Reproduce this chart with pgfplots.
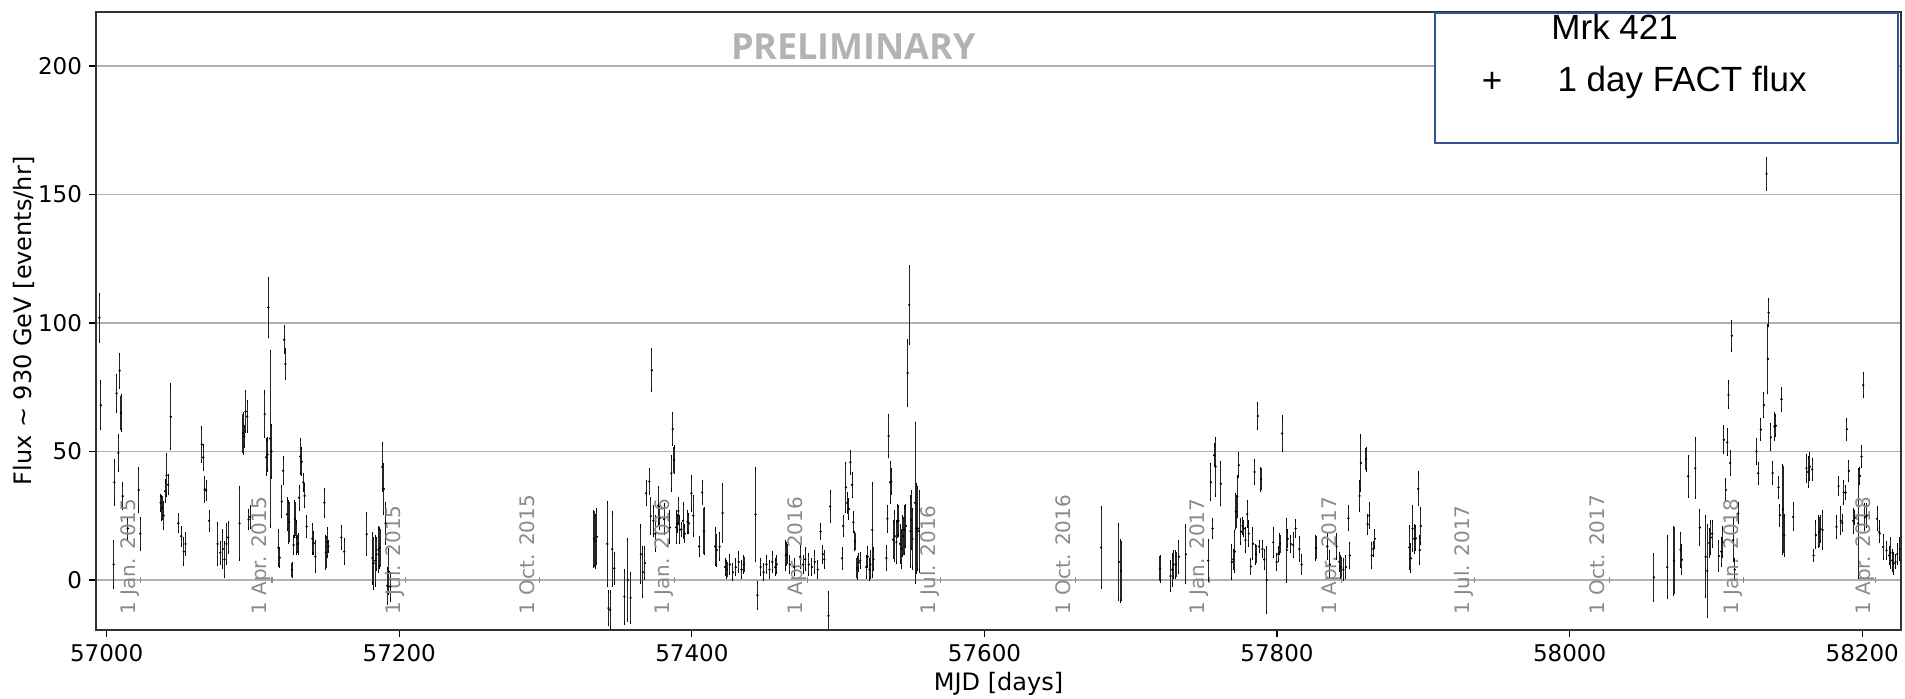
\documentclass[border=0pt]{standalone}
\usepackage{fontspec}
\setmainfont{DejaVu Sans}
\newfontfamily\legfont{Liberation Sans}
\newfontfamily\osans{Open Sans}
\usepackage{pgfplots}
\usepackage{pgfplotstable}
\pgfplotsset{compat=1.18}
\definecolor{gridgray}{HTML}{B0B0B0}
\definecolor{legblue}{HTML}{2F5496}
\definecolor{prelim}{HTML}{B3B3B3}
\definecolor{dategray}{HTML}{8A8A8A}
\tikzset{datelbl/.style={xshift=-2.5pt, rotate=90, anchor=base west, inner sep=0pt, text=dategray, font=\fontsize{10}{12}\selectfont}}

% MJD, flux, error
\pgfplotstableread{
56995 102 9
56996 68 9
57004.8 6 9
57005.2 38 8.5
57006.8 72.6 7
57008 49.4 6.6
57008.9 81.4 6.4
57009.8 65 6.7
57010.9 32.6 4.7
57014.4 20 4
57021.9 35 8.5
57023 18 6
57036.9 30 3
57037.8 28 4.5
57039 25 5
57040 34.5 4
57041 40.7 8
57042 37 3.5
57043.8 63.5 12.5
57049 22 3.3
57051 17 3.4
57052.7 11 5
57053.9 14 4
57065 52.7 6.6
57066 47.7 4.7
57067 35.3 4.7
57068 34.8 3.6
57070 23 3.6
57075.8 14 8
57077.6 10.6 4
57079.4 12 7
57080.5 8 6.6
57081.9 14 7.6
57083 16.5 5.8
57090.8 22 14
57093.2 57 7.7
57094 55.8 3.9
57095 65.5 7.8
57096 63.6 5.8
57097 23.5 3.5
57098 24.5 4
57108 64.5 8.6
57109 47.7 6.8
57110 48.8 6
57110.5 106 11.4
57111.7 55 34
57112.6 50 10
57117.4 12.5 6.7
57118.3 8.7 3.5
57119.7 30.5 5.8
57120.6 42.5 4.9
57121.3 93.5 5
57122.2 84 5.7
57123.3 25.5 6
57124.6 22.5 7.8
57126.7 3.9 2.6
57127.8 13.6 3.3
57128.7 23.7 6.8
57129.9 16.5 6
57130.8 14 3.5
57131.5 32 4.4
57132.4 48 6.6
57133.3 46 5
57134.4 38 3
57135.3 32.7 4.2
57136.7 20.8 4
57140.6 16 5.5
57141.5 14.3 4
57142.6 9 5.8
57148.8 30 5.3
57149.9 10.7 6.2
57150.8 14.6 5.5
57151.5 13 2
57160.4 16.5 4.2
57162.4 11 4.7
57177.7 17.8 8
57181.6 8.5 9.7
57182.5 6.5 9.7
57183.6 7.5 9.5
57184.5 10 6
57185.7 11.7 8.5
57186.8 12.5 7.5
57188.4 44 9
57189.5 35.4 9.4
57190.6 22 7.8
57191.8 -2.3 6.8
57192.9 3.2 8.4
57193.8 -2.6 5.2
57333.1 16 10.7
57333.8 15 10
57335 16.8 10.4
57342.2 14 16
57343 -11 6.5
57344.2 -11.7 7
57345.6 12 14
57347 4.5 5.7
57353.9 -6.5 10.3
57356.2 0 15.6
57358.1 -7 9.5
57365.1 10 11
57366.5 3 9.5
57367.9 6.6 6
57368.7 33.7 4.5
57371 38.3 4.7
57371.9 24.8 6.8
57372.7 81.6 8
57373.7 23 5.5
57375 18 6.5
57377 29 7
57378 24 4
57381 23.6 5.6
57385 20.4 6
57386 41.5 6.5
57386.9 58.7 6
57387.8 46.7 5
57389.2 20.4 6
57390 22 3
57390.8 26.8 5
57391.8 19.5 5
57392.8 19.7 2.3
57394 23 6.5
57395.2 18 3
57397 22.6 4
57398 22 3.5
57399.7 33.7 6.5
57401 25 7.5
57405 13 3.5
57407 34 4.2
57408.3 19 8.8
57415.9 13 6.8
57417 11.6 5.8
57418.9 12.9 5.1
57421 26 11
57422.7 5 3
57424 4 3
57426 6 3.5
57428 3 3
57430 5 3
57432 7 3.5
57434 4 3
57435.6 6 3
57443.5 25.5 18
57444.8 -6 5
57447 5 3
57449 3 3
57451 6 3
57453 4 3
57455 7 3.5
57457 5 3
57458 6 3
57464.2 9.5 5.6
57465 10 4
57467 6 3
57470 5 3
57474 9 4
57476 6 3
57477.5 8 4
57480 6 4
57482 5 3
57484 7 4
57486 4 3
57488 18.8 2.6
57489.5 10 3
57490.5 8 3
57493.4 -14 9
57494.5 28.6 5.8
57502.7 8.4 3.9
57503.4 21 3.6
57505.3 36 9.4
57506.2 30 3.6
57507.3 27.6 3.5
57508.4 45.8 4.2
57509.5 37 4.5
57510.4 22.4 3.6
57511.5 15 3.3
57512.9 4.7 4
57514.2 6.8 3
57515.1 7.6 2.8
57519.2 5 4
57520.3 9 3.7
57521.4 4 4
57522 6 5
57523.3 19.5 18
57524.1 8 4
57533 8.5 4.5
57533.7 23.8 4.9
57534.5 56 8
57535.6 38 7.8
57536.3 38.3 4.5
57537.6 15.6 7
57538.7 17 9.4
57539.8 14.7 8
57540.3 23 6
57541.2 23 5.5
57542.3 14 7
57543.4 12 7
57544.3 17 7.5
57545.2 19.4 9
57546.3 21 8
57547.5 80.5 12.5
57548.6 107 15
57549.5 19 13.6
57550 23.3 11
57550.8 16 11.4
57552.6 30 31
57553.5 20 17
57554.4 20 16
57555.3 19 15.5
57679.8 12.6 15.6
57691.9 7 14.4
57693.3 3.5 11.7
57720 4.4 4.8
57727.2 1.5 5.5
57728.3 4 6
57729.3 6 5
57730.9 6 5
57732.9 9 6
57737.7 10 11
57753 7.5 7.8
57754.8 38 6.8
57755.9 20 3.4
57757 48.5 4
57758 44 11
57761.6 37.4 8.2
57769.1 7 6.5
57770 8 3.5
57771 11 7.8
57771.9 26.6 6.5
57772.8 32.4 7.8
57773.9 44.6 4.4
57775.3 18.8 4.5
57776.4 21 3
57777.3 20 2.6
57778.4 15.5 4.5
57779.6 25.6 4.9
57780.7 18 4.5
57782.1 5.2 2.6
57783.5 14 5.8
57784.6 42 4.5
57785.6 10 3.5
57786.9 63.8 4.9
57787.8 13 2
57789 39.2 4.2
57790 12 3
57791.2 8 3.5
57793 0 12.6
57797.4 14.6 5.5
57799.7 7 3
57800.8 10 2.6
57802 14 3.5
57803.5 57 6.5
57806.7 11.6 12
57807.3 16 3
57809.4 14 3
57811 13.6 4.5
57812.7 20 3.2
57815.2 12 4.5
57816.8 6 3.5
57826.6 12.5 4.5
57834.3 13 4.8
57836.1 6 5
57840.7 13 4.5
57842.5 7 3.2
57843.7 5 4
57845.3 4 4
57847 5 4
57848.7 24 4.5
57849.8 9.5 4.8
57856.4 32.7 5.5
57857.3 45.5 10.5
57860.8 47 4.2
57861.9 21.7 3.5
57863 25 4.5
57864.8 9.5 4.8
57865.8 12 2.6
57866.9 16 3.2
57890.4 12.6 8
57891.5 8.4 5.2
57892.6 20 8.4
57893.8 16 5.2
57894.9 16.2 4.5
57896.5 35.4 6.2
57897.6 11.6 5.2
57898.3 21 6.8
58057.6 1 9
58066.7 5 11.7
58071.3 7.4 13
58075.8 11.8 6.4
58076.7 7.8 5.4
58081 40.3 7.7
58085.8 43.4 11.4
58089 20.4 6.4
58093 9 15.6
58094 3.5 17.8
58095.4 14.4 5.2
58096.5 16.5 6
58097.4 18 4.8
58102 9.3 5.5
58103.6 11 5.2
58104.5 14.7 5.5
58105.4 54.5 5
58106.8 35 3.9
58107.7 53.5 4.8
58108.6 72 5
58109.7 45.5 4.5
58110.9 95 5.5
58111.8 15.5 7.8
58112.9 4 4
58115.2 25.9 3.6
58127.7 50 4.5
58128.9 41.5 3.9
58130.7 58.5 4
58132.8 68 4.5
58134.6 158 6
58135.5 86 13
58136 104 5
58137.5 55.5 4.9
58138.7 41.6 4.2
58140 59.7 4.9
58140.9 60 3.9
58142.8 36 3.8
58143.7 25.2 3.8
58144.8 70.3 4.2
58145.8 27.5 17
58146.7 17.4 7.8
58152.8 24.5 5
58161.9 43.5 5
58163 42 5.5
58164.2 44 5
58165.8 43 4
58166.7 9.5 2
58168.3 17.5 5
58170.4 18.7 5.8
58171.5 19.8 4.8
58172.9 19.4 7.2
58182.4 20.6 3.9
58183.8 36.5 3.2
58185.4 23 5
58186.3 22.2 2.9
58187.4 34 4.3
58188.6 34 2.3
58189.5 58.6 3.8
58190.9 42.4 3.6
58193.8 23 4.5
58194.9 24.2 2.3
58197.2 22 21
58198.4 40.5 3
58199.5 48 4
58200.7 75.8 4.5
58201.8 24.4 4.9
58203 25 4.2
58210.2 23.8 4.2
58211.6 18.7 3.9
58212 18 2.6
58214.3 12.8 4.5
58216.6 11.5 3.2
58218.4 9.5 3.2
58219.3 10.5 5.5
58220.5 7.6 3.9
58221.6 6.4 3.9
58222.7 7 2.3
58223.9 10 3.6
58225.7 12 3.9
}\fluxdata

\begin{document}
\begin{tikzpicture}
\path[use as bounding box] (-48pt,-34pt) rectangle (904.5pt,315pt);
\begin{axis}[
  scale only axis,
  width=902.5pt,
  height=309pt,
  xmin=56992.7, xmax=58226.5,
  ymin=-19.5, ymax=221,
  xtick={57000,57200,...,58200},
  ytick={0,50,...,200},
  scaled x ticks=false,
  /pgf/number format/assume math mode=true,
  x tick label style={/pgf/number format/1000 sep={}},
  ticklabel style={font=\fontsize{11.5}{14}\selectfont},
  ymajorgrids,
  grid style={draw=gridgray, line width=0.7pt},
  tick align=outside,
  xtick pos=bottom,
  ytick pos=left,
  major tick length=3.5pt,
  tick style={black, line width=0.6pt},
  axis line style={black!80, line width=0.6pt},
  xlabel={MJD [days]},
  ylabel={Flux \textasciitilde{} 930 GeV [events/hr]},
  every axis x label/.style={at={([yshift=-27pt]rel axis cs:0.5,0)}, anchor=center, font=\fontsize{12}{14}\selectfont},
  every axis y label/.style={at={([xshift=-36pt]rel axis cs:0,0.5)}, rotate=90, anchor=center, font=\fontsize{12}{14}\selectfont},
]
\addplot[only marks, mark=*, mark size=0.35pt, black,
  error bars/.cd, y dir=both, y explicit,
  error bar style={line width=0.55pt, black!85},
  error mark=-, error mark options={mark size=0.8pt, line width=0.5pt, black}]
  table[x index=0, y index=1, y error index=2, header=false] {\fluxdata};

\addplot[only marks, mark=|, mark size=1.7pt, dategray, mark options={line width=0.6pt}] coordinates {
  (57023,0) (57113,0) (57204,0) (57296,0) (57388,0) (57479,0) (57570,0)
  (57662,0) (57754,0) (57844,0) (57935,0) (58027,0) (58119,0) (58209,0)
};

\node[datelbl] at (axis cs:57023,-13.6) {1 Jan. 2015};
\node[datelbl] at (axis cs:57113,-13.6) {1 Apr. 2015};
\node[datelbl] at (axis cs:57204,-13.6) {1 Jul. 2015};
\node[datelbl] at (axis cs:57296,-13.6) {1 Oct. 2015};
\node[datelbl] at (axis cs:57388,-13.6) {1 Jan. 2016};
\node[datelbl] at (axis cs:57479,-13.6) {1 Apr. 2016};
\node[datelbl] at (axis cs:57570,-13.6) {1 Jul. 2016};
\node[datelbl] at (axis cs:57662,-13.6) {1 Oct. 2016};
\node[datelbl] at (axis cs:57754,-13.6) {1 Jan. 2017};
\node[datelbl] at (axis cs:57844,-13.6) {1 Apr. 2017};
\node[datelbl] at (axis cs:57935,-13.6) {1 Jul. 2017};
\node[datelbl] at (axis cs:58027,-13.6) {1 Oct. 2017};
\node[datelbl] at (axis cs:58119,-13.6) {1 Jan. 2018};
\node[datelbl] at (axis cs:58209,-13.6) {1 Apr. 2018};

\node[text=prelim, font=\osans\bfseries\fontsize{18}{20}\selectfont]
  at (rel axis cs:0.4197,0.9434) {PRELIMINARY};

% legend box
\draw[legblue, fill=white, line width=0.9pt]
  (rel axis cs:0.7418,0.7874) rectangle (rel axis cs:0.9985,0.9985);
\node[anchor=west, inner sep=0pt, font=\legfont\fontsize{17.5}{20}\selectfont]
  at (rel axis cs:0.8061,0.9757) {Mrk 421};
\node[anchor=west, inner sep=0pt, font=\legfont\fontsize{17.5}{20}\selectfont]
  at (rel axis cs:0.8095,0.8867) {1 day FACT flux};
\node[anchor=center, inner sep=0pt, font=\legfont\fontsize{17.5}{20}\selectfont]
  at (rel axis cs:0.7734,0.8867) {+};
\end{axis}
\end{tikzpicture}
\end{document}
